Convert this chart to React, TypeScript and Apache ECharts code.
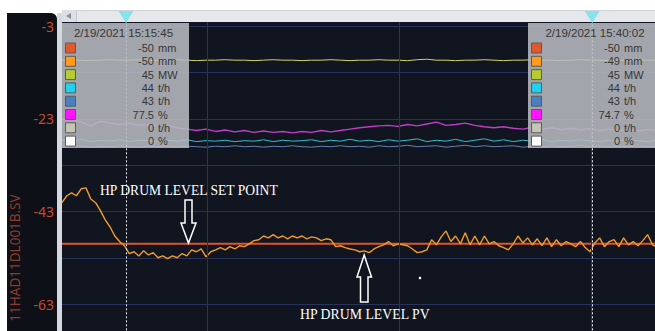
import React, { useEffect, useRef } from "react";
import * as echarts from "echarts";

const DAY = [2021, 1, 19];
function t(hms: string): number {
  const [h, m, s] = hms.split(":").map(Number);
  return new Date(DAY[0], DAY[1], DAY[2], h, m, s).getTime();
}

const axisStart = "15:12:25";
const axisEnd = "15:43:18";
const pvStepSec = 15;
const trendStepSec = 30;

const yMin = -73;
const yMax = -2.05;
const yInterval = 10;
const yLabelValues = [-3, -23, -43, -63];
const yAxisTitle = "11HAD11DL001B.SV";

const gridTimes = ["15:20:00", "15:30:00", "15:40:00"];
const cursorTimes = ["15:15:45", "15:40:02"];
const cursorLabels = ["2/19/2021 15:15:45", "2/19/2021 15:40:02"];

const setPointValue = -50;

const pvValues = [
  -41.1, -39.6, -39.0, -39.6, -38.1, -37.9, -40.3, -41.1, -42.8, -44.8,
  -46.3, -48.3, -49.5, -50.4, -52.1, -51.7, -52.6, -51.5, -52.4, -51.9,
  -53.0, -52.6, -53.2, -52.6, -53.0, -52.1, -52.6, -51.3, -51.7, -51.1,
  -52.8, -51.7, -51.3, -50.8, -51.3, -50.6, -51.1, -50.4, -50.6, -50.0,
  -49.3, -49.1, -48.3, -48.7, -48.0, -48.7, -48.3, -48.9, -48.3, -48.7,
  -48.3, -48.9, -48.5, -48.7, -49.3, -48.9, -49.1, -50.6, -50.4, -50.8,
  -51.1, -51.3, -51.7, -51.5, -51.9, -51.1, -50.6, -50.2, -49.5, -50.4,
  -50.0, -50.2, -50.4, -51.1, -51.9, -51.7, -51.3, -49.1, -50.2, -48.5,
  -47.2, -49.5, -48.3, -50.0, -47.6, -50.2, -48.3, -50.2, -48.3, -50.0,
  -49.5, -50.4, -50.8, -51.3, -50.0, -48.3, -49.8, -48.7, -50.2, -48.9,
  -50.4, -48.7, -50.6, -49.1, -50.4, -49.5, -50.0, -50.6, -49.5, -50.8,
  -51.7, -49.8, -48.7, -50.6, -49.5, -49.1, -50.6, -48.7, -50.2, -49.5,
  -50.4, -49.3, -48.0, -50.2, -50.8, -50.0,
];

const yellowValues = [
  -10.3, -10.2, -10.3, -10.4, -10.3, -10.2, -10.3, -10.3, -10.2, -10.4,
  -10.3, -10.3, -10.2, -10.3, -10.4, -10.3, -10.3, -10.2, -10.3, -10.3,
  -10.4, -10.3, -10.2, -10.3, -10.3, -10.4, -10.3, -10.3, -10.2, -10.3,
  -10.4, -10.3, -10.3, -10.2, -10.3, -10.3, -10.4, -10.2, -10.1, -10.3,
  -10.3, -10.4, -10.3, -10.3, -10.2, -10.3, -10.4, -10.3, -10.3, -10.2,
  -10.3, -10.3, -10.4, -10.3, -10.2, -10.3, -10.3, -10.4, -10.3, -10.3,
  -10.2, -10.3, -10.3,
];

const magentaValues = [
  -23.2, -23.0, -23.7, -24.5, -23.5, -23.9, -24.2, -23.9, -24.4, -24.2,
  -24.6, -24.4, -24.9, -25.2, -25.5, -25.2, -25.7, -25.4, -25.8, -25.5,
  -25.9, -25.6, -25.9, -25.7, -26.0, -25.7, -25.9, -25.5, -25.8, -25.5,
  -25.2, -24.9, -24.7, -24.5, -24.4, -24.6, -24.2, -24.5, -24.1, -23.7,
  -24.4, -24.2, -23.9, -24.4, -24.7, -24.9, -24.7, -25.0, -25.2, -24.8,
  -25.2, -24.9, -25.3, -25.0, -25.4, -25.1, -25.5, -25.2, -25.5, -25.3,
  -25.6, -25.3, -25.5,
];

const cyanValues = [
  -27.5, -27.8, -27.4, -27.9, -27.6, -27.8, -27.5, -27.9, -27.6, -27.7,
  -27.9, -27.6, -27.8, -27.5, -27.9, -27.7, -27.8, -27.6, -27.9, -27.7,
  -27.8, -27.5, -27.9, -27.6, -27.8, -27.7, -27.5, -27.9, -27.6, -27.8,
  -27.4, -27.8, -27.6, -27.9, -27.5, -27.8, -27.6, -27.3, -27.9, -27.6,
  -27.8, -27.4, -27.9, -27.6, -27.3, -27.8, -27.5, -27.9, -27.6, -27.8,
  -27.5, -27.9, -27.6, -27.8, -27.5, -27.7, -27.9, -27.6, -27.8, -27.5,
  -27.7, -27.9, -27.6,
];

const blueValues = [
  -28.9, -29.0, -28.8, -29.1, -28.9, -29.0, -28.8, -29.0, -29.1, -28.9,
  -29.0, -28.8, -29.1, -28.9, -29.0, -29.1, -28.9, -29.0, -28.8, -29.0,
  -28.9, -29.1, -28.9, -29.0, -28.8, -29.0, -29.1, -28.9, -29.0, -28.8,
  -29.0, -28.9, -29.1, -28.8, -29.0, -28.9, -28.7, -29.0, -28.9, -28.8,
  -29.1, -28.9, -28.7, -29.0, -28.8, -29.0, -28.9, -28.8, -29.1, -28.9,
  -29.0, -28.8, -29.0, -28.9, -28.7, -29.0, -28.8, -29.1, -28.9, -29.0,
  -28.8, -29.0, -28.9,
];

const legendColors = ["#e0582c", "#ff9a1a", "#b6cc2e", "#1fd2f0", "#4a7fc0", "#ff14ff", "#c6c4b6", "#ffffff"];
const legendUnits = ["mm", "mm", "MW", "t/h", "t/h", "%", "t/h", "%"];
const leftCursorValues = ["-50", "-50", "45", "44", "43", "77.5", "0", "0"];
const rightCursorValues = ["-50", "-49", "45", "44", "43", "74.7", "0", "0"];

const setPointLabel = "HP DRUM LEVEL SET POINT";
const pvLabel = "HP DRUM LEVEL PV";

function toSeries(values: number[], stepSec: number) {
  const start = t(axisStart);
  return values.map((v, i) => [start + i * stepSec * 1000, v]);
}

const sans = '"Noto Sans", "DejaVu Sans", sans-serif';
const boxFont = '"Liberation Sans", Arial, sans-serif';
const serif = '"Liberation Serif", "DejaVu Serif", serif';

function cursorBox(left: number, width: number, dateX: number, label: string, values: string[]) {
  const els: any[] = [];
  const txt = { fill: "#363636", fontSize: 11, fontFamily: boxFont, verticalAlign: "middle" };
  els.push({
    type: "rect",
    shape: { x: left, y: 23, width, height: 125 },
    style: { fill: "rgba(186,189,194,0.86)" },
    z: 50,
    silent: true,
  });
  els.push({
    type: "text",
    x: dateX,
    y: 33,
    style: { ...txt, fontSize: 11.5, text: label, align: "center" },
    z: 51,
    silent: true,
  });
  values.forEach((v, i) => {
    const cy = 48 + i * 13.3;
    els.push({
      type: "rect",
      shape: { x: left + 3.5, y: cy - 5, width: 10, height: 10 },
      style: { fill: legendColors[i], stroke: "#5a5a5a", lineWidth: 1 },
      z: 51,
      silent: true,
    });
    els.push({
      type: "text",
      x: left + 92,
      y: cy,
      style: { ...txt, text: v, align: "right" },
      z: 51,
      silent: true,
    });
    els.push({
      type: "text",
      x: left + 96,
      y: cy,
      style: { ...txt, text: legendUnits[i], align: "left" },
      z: 51,
      silent: true,
    });
  });
  return els;
}

export default function App() {
  const ref = useRef<HTMLDivElement>(null);

  useEffect(() => {
    if (!ref.current) return;
    const chart = echarts.init(ref.current, null, { renderer: "svg" });
    const thinLine = (color: string, width: number) => ({ color, width });

    chart.setOption({
      animation: false,
      backgroundColor: "transparent",
      grid: {
        left: 62,
        width: 593,
        top: 22,
        height: 328.3,
        outerBoundsMode: "none",
        containLabel: false,
        show: true,
        backgroundColor: "#11151f",
        borderWidth: 0,
      },
      xAxis: {
        type: "time",
        min: t(axisStart),
        max: t(axisEnd),
        axisLine: { show: false },
        axisTick: { show: false },
        axisLabel: { show: false },
        splitLine: { show: false },
      },
      yAxis: {
        type: "value",
        min: yMin,
        max: yMax,
        interval: yInterval,
        axisLine: { show: false },
        axisTick: { show: false },
        axisLabel: {
          color: "#c9472d",
          fontSize: 14,
          fontFamily: sans,
          margin: 8,
          formatter: (v: number) => (yLabelValues.includes(Math.round(v * 100) / 100) ? String(Math.round(v)) : ""),
        },
        splitLine: { show: true, showMaxLine: false, showMinLine: false, lineStyle: { color: "#28325c", width: 1 } },
      },
      series: [
        {
          name: "blue",
          type: "line",
          data: toSeries(blueValues, trendStepSec),
          showSymbol: false,
          lineStyle: thinLine("#5f84b4", 1),
          z: 1,
          silent: true,
          markLine: {
            silent: true,
            symbol: ["none", "none"],
            label: { show: false },
            lineStyle: { color: "#28325c", width: 1, type: "solid" },
            data: gridTimes.map((g) => ({ xAxis: t(g) })),
          },
        },
        {
          name: "cyan",
          type: "line",
          data: toSeries(cyanValues, trendStepSec),
          showSymbol: false,
          lineStyle: thinLine("#3cbccc", 1),
          z: 2,
          silent: true,
        },
        {
          name: "magenta",
          type: "line",
          data: toSeries(magentaValues, trendStepSec),
          showSymbol: false,
          lineStyle: thinLine("#c23cc6", 1.4),
          z: 2,
          silent: true,
        },
        {
          name: "yellow",
          type: "line",
          data: toSeries(yellowValues, trendStepSec),
          showSymbol: false,
          lineStyle: thinLine("#cdd46e", 1),
          z: 2,
          silent: true,
        },
        {
          name: "setpoint",
          type: "line",
          data: [
            [t(axisStart), setPointValue],
            [t(axisEnd), setPointValue],
          ],
          showSymbol: false,
          lineStyle: thinLine("#e0542a", 2),
          z: 3,
          silent: true,
        },
        {
          name: "pv",
          type: "line",
          data: toSeries(pvValues, pvStepSec),
          showSymbol: false,
          lineStyle: thinLine("#f29a2e", 1.4),
          z: 4,
          silent: true,
        },
        {
          name: "cursors",
          type: "line",
          data: [],
          z: 100,
          silent: true,
          markLine: {
            silent: true,
            symbol: ["none", "none"],
            label: { show: false },
            lineStyle: { color: "#e6eaf2", width: 1, type: [2, 2] },
            data: cursorTimes.map((c) => ({ xAxis: t(c) })),
          },
        },
      ],
    });

    const cursorX = cursorTimes.map((c) => chart.convertToPixel({ xAxisIndex: 0 }, t(c)) as number);

    const graphics: any[] = [
      { type: "rect", shape: { x: 7, y: 13, width: 50, height: 330, r: [0, 6, 0, 0] }, style: { fill: "#0d1016" }, silent: true },
      { type: "rect", shape: { x: 57, y: 13, width: 5, height: 330 }, style: { fill: "#d4d8e0" }, silent: true },
      { type: "rect", shape: { x: 62, y: 10, width: 593, height: 12 }, style: { fill: "#e5e7eb" }, silent: true },
      { type: "line", shape: { x1: 62, y1: 10.5, x2: 655, y2: 10.5 }, style: { stroke: "#cfd3da", lineWidth: 1 }, silent: true },
      { type: "rect", shape: { x: 62, y: 10, width: 14, height: 12 }, style: { fill: "#dcdfe4" }, silent: true },
      { type: "line", shape: { x1: 76.5, y1: 10, x2: 76.5, y2: 22 }, style: { stroke: "#c3c7ce", lineWidth: 1 }, silent: true },
      { type: "polygon", shape: { points: [[66, 16], [71, 13], [71, 19]] }, style: { fill: "#8a8e96" }, silent: true },
      {
        type: "text",
        x: 15,
        y: 258,
        rotation: Math.PI / 2,
        style: { text: yAxisTitle, fill: "#8e3a2c", fontSize: 13.5, fontFamily: sans, align: "center", verticalAlign: "middle" },
        silent: true,
      },
      ...cursorX.map((cx) => ({
        type: "polygon",
        shape: { points: [[cx - 7.5, 11], [cx + 7.5, 11], [cx, 23]] },
        style: { fill: "#86e3ea" },
        z: 60,
        silent: true,
      })),
      ...cursorBox(62, 127, 123.5, cursorLabels[0], leftCursorValues),
      ...cursorBox(528, 127, 595, cursorLabels[1], rightCursorValues),
      {
        type: "text",
        x: 100,
        y: 190,
        style: { text: setPointLabel, fill: "#ffffff", fontSize: 13.6, fontFamily: serif, align: "left", verticalAlign: "middle" },
        z: 60,
        silent: true,
      },
      {
        type: "text",
        x: 300,
        y: 314,
        style: { text: pvLabel, fill: "#ffffff", fontSize: 13.8, fontFamily: serif, align: "left", verticalAlign: "middle" },
        z: 60,
        silent: true,
      },
      {
        type: "polygon",
        shape: {
          points: [[185, 200], [192, 200], [192, 223], [196, 223], [188.5, 243], [181, 223], [185, 223]],
        },
        style: { fill: "rgba(0,0,0,0)", stroke: "#ffffff", lineWidth: 1.5 },
        z: 60,
        silent: true,
      },
      {
        type: "polygon",
        shape: {
          points: [[360.5, 302], [368, 302], [368, 277], [371.5, 277], [364.2, 255], [357, 277], [360.5, 277]],
        },
        style: { fill: "rgba(0,0,0,0)", stroke: "#ffffff", lineWidth: 1.5 },
        z: 60,
        silent: true,
      },
      { type: "circle", shape: { cx: 420, cy: 278, r: 1.3 }, style: { fill: "#ffffff" }, z: 60, silent: true },
    ];

    chart.setOption({ graphic: graphics });

    return () => chart.dispose();
  }, []);

  return (
    <div
      ref={ref}
      style={{ position: "fixed", left: 0, top: 0, width: 655, height: 331, background: "#ffffff" }}
    />
  );
}
